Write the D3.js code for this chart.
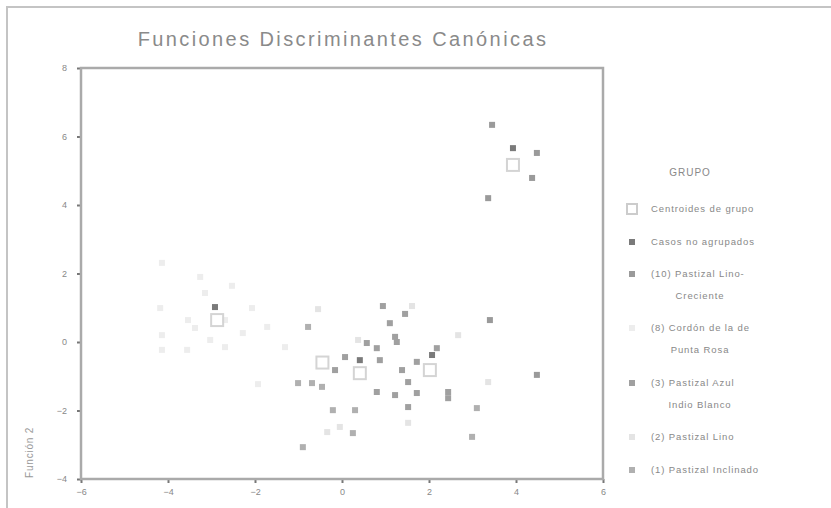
<!DOCTYPE html>
<html>
<head>
<meta charset="utf-8">
<script src="https://cdn.jsdelivr.net/npm/d3@7"></script>
<style>
    body { margin: 0; background: #fff; }
    text { font-family: "Liberation Sans", Arial, sans-serif; }
</style>
</head>
<body>
<div id="chart"></div>
<script>
// datos (funcion 1, funcion 2)
const xTicks = [-6, -4, -2, 0, 2, 4, 6];
const yTicks = [-4, -2, 0, 2, 4, 6, 8];

const groupNames = ["Casos no agrupados", "(10) Pastizal Lino-", "(8) Cordón de la de", "(3) Pastizal Azul", "(2) Pastizal Lino", "(1) Pastizal Inclinado"];
const groupSecondLine = ["", "Creciente", "Punta Rosa", "Indio Blanco", "", ""];
const groupColors = ["#7a7a7a", "#9a9a9a", "#ededed", "#a0a0a0", "#e4e4e4", "#b0b0b0"];

const noAgrupados = [[-2.92, 1.02], [3.93, 5.66], [2.07, -0.38], [0.41, -0.53]];
const grupo10 = [[3.45, 6.34], [4.48, 5.52], [4.37, 4.79], [3.36, 4.20], [3.40, 0.64], [4.48, -0.96]];
const grupo8 = [[-4.14, 2.31], [-3.26, 1.90], [-2.53, 1.64], [-3.15, 1.43], [-4.18, 0.99], [-3.54, 0.64],
    [-3.38, 0.41], [-2.69, 0.64], [-2.07, 0.99], [-1.72, 0.44], [-2.28, 0.26], [-4.14, 0.20],
    [-3.56, -0.23], [-3.03, 0.06], [-2.69, -0.15], [-1.31, -0.15], [-4.14, -0.23], [-1.93, -1.23]];
const grupo3 = [[0.94, 1.05], [1.45, 0.82], [1.10, 0.55], [1.22, 0.15], [1.26, 0.00], [0.57, -0.03],
    [0.80, -0.18], [0.87, -0.53], [0.07, -0.44], [-0.16, -0.82], [1.38, -0.82], [1.72, -0.58],
    [2.18, -0.18], [1.52, -1.17], [0.80, -1.46], [1.22, -1.55], [1.72, -1.49], [1.52, -1.90],
    [2.44, -1.46], [2.44, -1.64]];
const grupo2 = [[-0.55, 0.96], [1.61, 1.05], [0.37, 0.06], [2.67, 0.20], [3.36, -1.17], [1.52, -2.36],
    [-0.34, -2.63], [-0.05, -2.48]];
const grupo1 = [[-0.78, 0.44], [-1.01, -1.20], [-0.69, -1.20], [-0.46, -1.31], [-0.21, -1.99],
    [0.30, -1.99], [3.10, -1.93], [0.25, -2.66], [2.99, -2.77], [-0.90, -3.07]];
const centroides = [[3.93, 5.17], [-2.87, 0.64], [2.02, -0.82], [0.41, -0.91], [-0.45, -0.60]];

const groups = [noAgrupados, grupo10, grupo8, grupo3, grupo2, grupo1];

function drawChart() {
    const dimensions = {
        width: 831,
        height: 508,
        plot: { left: 81, right: 603, top: 68, bottom: 479 },
    }

    const xScale = d3.scaleLinear()
        .domain([-6, 6])
        .range([dimensions.plot.left, dimensions.plot.right]);
    const yScale = d3.scaleLinear()
        .domain([-4, 8])
        .range([dimensions.plot.bottom, dimensions.plot.top]);

    const wrapper = d3.select("#chart").append("svg")
        .attr("width", dimensions.width)
        .attr("height", dimensions.height)

    // marco exterior
    wrapper.append("rect")
        .attr("x", 7).attr("y", 7)
        .attr("width", 840).attr("height", 520)
        .attr("fill", "none")
        .attr("stroke", "#c4c4c4")
        .attr("stroke-width", 2)

    wrapper.append("text")
        .attr("x", 343)
        .attr("y", 46)
        .attr("text-anchor", "middle")
        .attr("font-size", "20px")
        .attr("letter-spacing", "2.4px")
        .attr("fill", "#8a8a8a")
        .text("Funciones Discriminantes Canónicas")

    // ejes
    const xAxis = wrapper.append("g")
        .attr("transform", `translate(0, ${dimensions.plot.bottom})`)
        .call(d3.axisBottom(xScale).tickValues(xTicks).tickSize(4).tickPadding(6))
    const yAxis = wrapper.append("g")
        .attr("transform", `translate(${dimensions.plot.left}, 0)`)
        .call(d3.axisLeft(yScale).tickValues(yTicks).tickSize(4).tickPadding(10))
    ;[xAxis, yAxis].forEach(ax => {
        ax.select(".domain").remove();
        ax.selectAll("line").attr("stroke", "#777").attr("stroke-width", 2);
        ax.selectAll("text").attr("font-size", "9px").attr("fill", "#888");
    })

    // caja del grafico
    wrapper.append("rect")
        .attr("x", dimensions.plot.left)
        .attr("y", dimensions.plot.top)
        .attr("width", dimensions.plot.right - dimensions.plot.left)
        .attr("height", dimensions.plot.bottom - dimensions.plot.top)
        .attr("fill", "none")
        .attr("stroke", "#aaa")
        .attr("stroke-width", 2.5)

    wrapper.append("text")
        .attr("transform", `translate(33, 478) rotate(-90)`)
        .attr("font-size", "10px")
        .attr("letter-spacing", "0.8px")
        .attr("fill", "#999")
        .text("Función 2")

    // puntos
    const size = 6;
    groups.forEach((g, i) => {
        wrapper.append("g")
            .selectAll("rect")
            .data(g)
            .enter()
            .append("rect")
            .attr("x", d => xScale(d[0]) - size / 2)
            .attr("y", d => yScale(d[1]) - size / 2)
            .attr("width", size)
            .attr("height", size)
            .attr("fill", groupColors[i])
    })

    const cSize = 12;
    wrapper.append("g")
        .selectAll("rect")
        .data(centroides)
        .enter()
        .append("rect")
        .attr("x", d => xScale(d[0]) - cSize / 2)
        .attr("y", d => yScale(d[1]) - cSize / 2)
        .attr("width", cSize)
        .attr("height", cSize)
        .attr("fill", "none")
        .attr("stroke", "#d4d4d4")
        .attr("stroke-width", 2)

    // leyenda
    const legend = wrapper.append("g")
    const legendFont = "9.5px";
    const legendSpacing = "0.9px";
    legend.append("text")
        .attr("x", 690).attr("y", 176)
        .attr("text-anchor", "middle")
        .attr("font-size", "10px")
        .attr("letter-spacing", "1px")
        .attr("fill", "#888")
        .text("GRUPO")

    legend.append("rect")
        .attr("x", 627).attr("y", 204)
        .attr("width", 10).attr("height", 10)
        .attr("fill", "none")
        .attr("stroke", "#ccc")
        .attr("stroke-width", 2)
    legend.append("text")
        .attr("x", 651).attr("y", 212)
        .attr("font-size", legendFont)
        .attr("letter-spacing", legendSpacing)
        .attr("fill", "#888")
        .text("Centroides de grupo")

    const itemY = [242, 274, 328, 383, 437, 470];
    groupNames.forEach((name, i) => {
        legend.append("rect")
            .attr("x", 629).attr("y", itemY[i] - 3)
            .attr("width", size).attr("height", size)
            .attr("fill", groupColors[i])
        legend.append("text")
            .attr("x", 651).attr("y", itemY[i] + 3)
            .attr("font-size", legendFont)
            .attr("letter-spacing", legendSpacing)
            .attr("fill", "#888")
            .text(name)
        if (groupSecondLine[i]) {
            legend.append("text")
                .attr("x", 700).attr("y", itemY[i] + 25)
                .attr("text-anchor", "middle")
                .attr("font-size", legendFont)
                .attr("letter-spacing", legendSpacing)
                .attr("fill", "#888")
                .text(groupSecondLine[i])
        }
    })
}

drawChart();
</script>
</body>
</html>
